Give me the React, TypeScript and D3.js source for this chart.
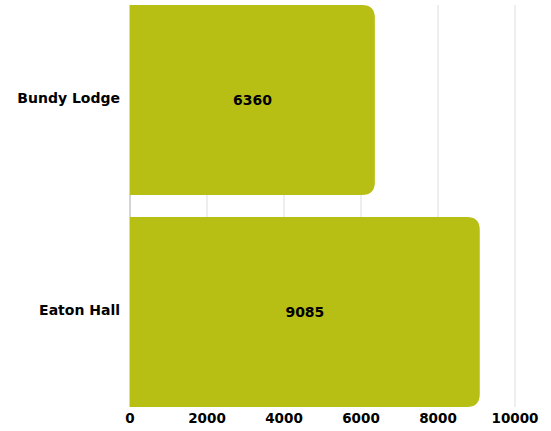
import React from "react";
import * as d3 from "d3";

const categories = ["Bundy Lodge", "Eaton Hall"];
const values = [6360, 9085];
const xTicks = [0, 2000, 4000, 6000, 8000, 10000];

const width = 551;
const height = 431;
const margin = { top: 5, right: 36, bottom: 24, left: 130 };
const barColor = "#b8bf14";
const font = "'DejaVu Sans', sans-serif";

function barPath(x0: number, x1: number, y0: number, h: number, r: number) {
  const rr = Math.min(r, (x1 - x0), h / 2);
  return `M${x0},${y0}H${x1 - rr}Q${x1},${y0} ${x1},${y0 + rr}V${y0 + h - rr}Q${x1},${y0 + h} ${x1 - rr},${y0 + h}H${x0}Z`;
}

export default function App() {
  const x = d3.scaleLinear().domain([0, 10000]).range([margin.left, width - margin.right]);
  const y = d3
    .scaleBand<string>()
    .domain(categories)
    .range([margin.top, height - margin.bottom])
    .paddingInner(0.104)
    .paddingOuter(0);

  return (
    <svg
      width={width}
      height={height}
      style={{ position: "absolute", left: 0, top: 0, fontFamily: font }}
    >
      {/* vertical gridlines */}
      {xTicks.slice(1).map(t => (
        <line
          key={t}
          x1={x(t)}
          x2={x(t)}
          y1={margin.top}
          y2={height - margin.bottom}
          stroke="#dddddd"
          strokeWidth={1}
        />
      ))}
      <line
        x1={x(0)}
        x2={x(0)}
        y1={margin.top}
        y2={height - margin.bottom}
        stroke="#aaaaaa"
        strokeWidth={1}
      />

      {categories.map((c, i) => {
        const y0 = y(c)!;
        const h = y.bandwidth();
        return (
          <g key={c}>
            <path d={barPath(x(0), x(values[i]), y0, h, 13)} fill={barColor} />
            <text
              x={(x(0) + x(values[i])) / 2}
              y={y0 + h / 2}
              dy="0.35em"
              textAnchor="middle"
              fontSize={14}
              fontWeight={700}
              fill="#000"
            >
              {values[i]}
            </text>
            <text
              x={margin.left - 10}
              y={y0 + h / 2 - 2}
              dy="0.35em"
              textAnchor="end"
              fontSize={14}
              fontWeight={700}
              fill="#000"
            >
              {c}
            </text>
          </g>
        );
      })}

      {xTicks.map(t => (
        <text
          key={t}
          x={x(t)}
          y={height - 8}
          textAnchor="middle"
          fontSize={13.5}
          fontWeight={700}
          fill="#000"
        >
          {t}
        </text>
      ))}
    </svg>
  );
}
